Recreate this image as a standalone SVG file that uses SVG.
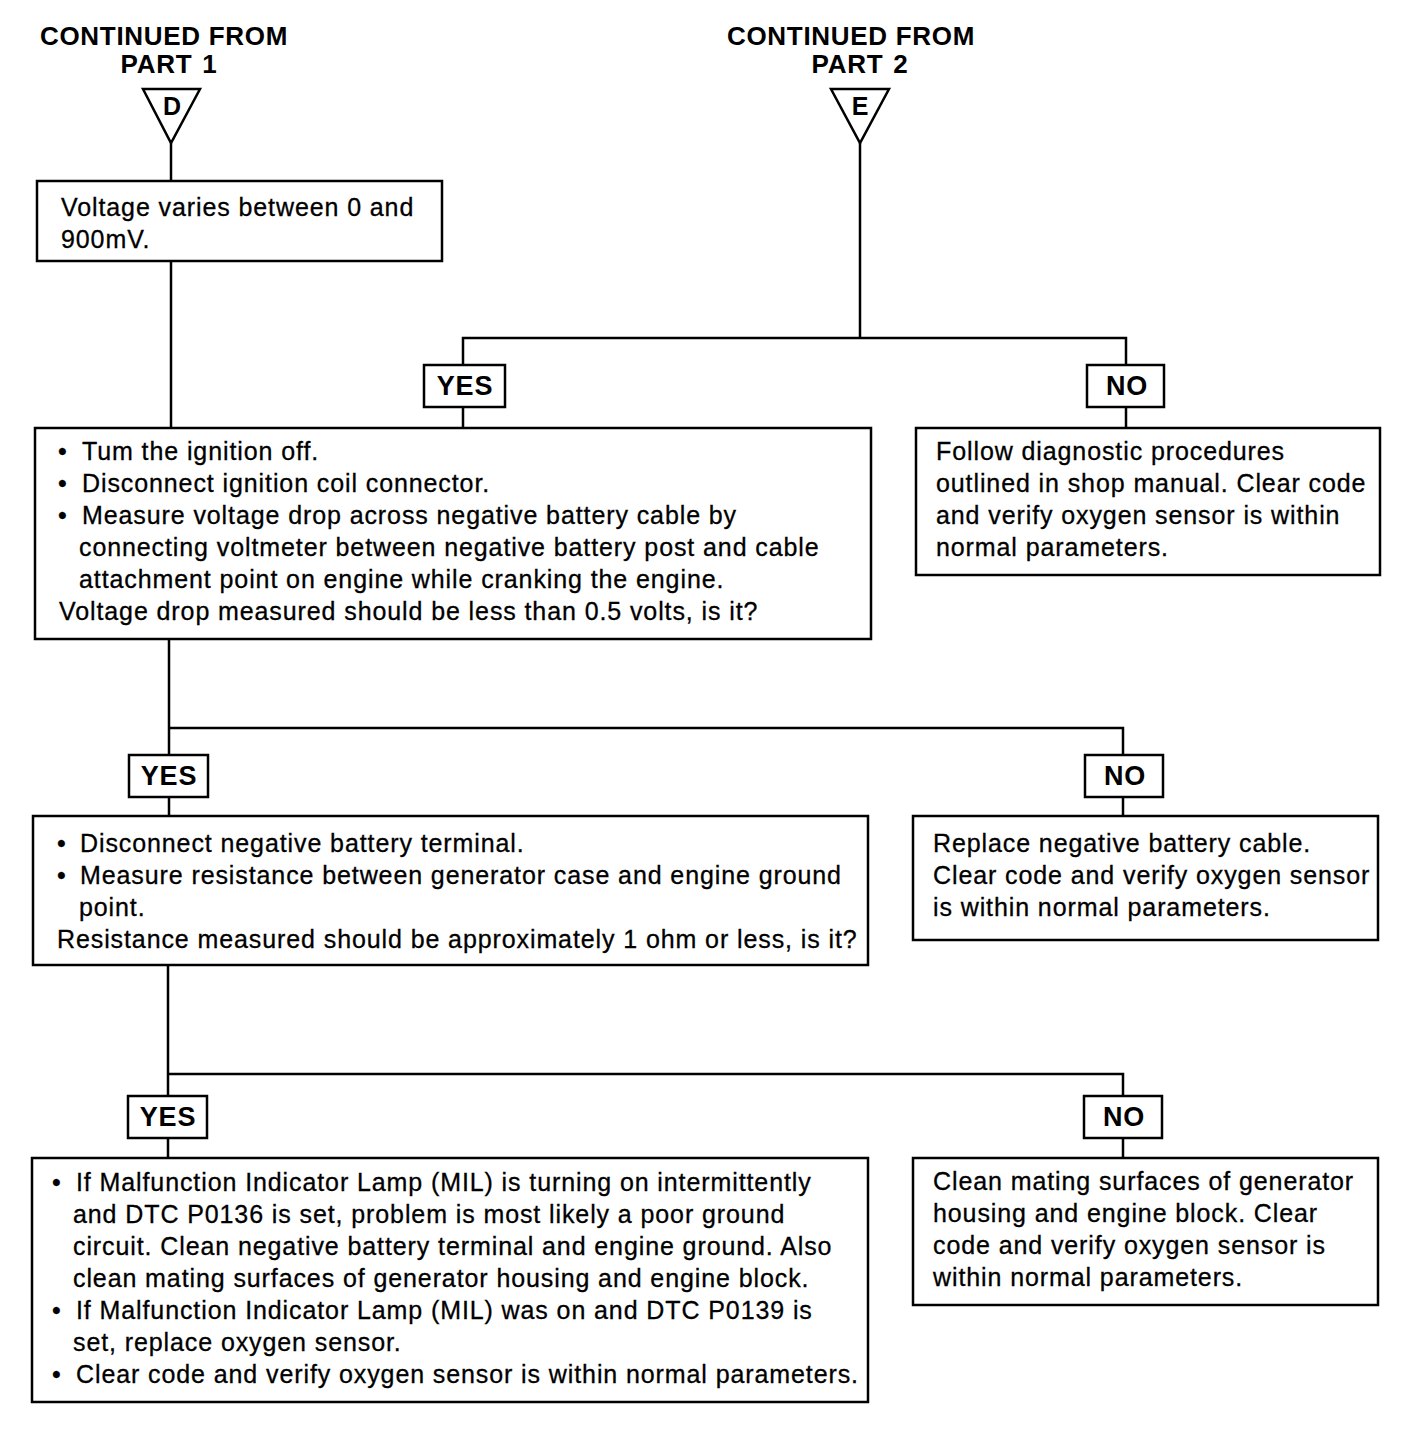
<svg xmlns="http://www.w3.org/2000/svg" width="1408" height="1432" viewBox="0 0 1408 1432">
<style>
.box{fill:#fff;stroke:#000;stroke-width:2.5}
.ln{fill:none;stroke:#000;stroke-width:2.5}
.t{font-family:"Liberation Sans",Arial,sans-serif;font-size:25px;letter-spacing:0.9px;fill:#000;stroke:#000;stroke-width:0.3}
.h{font-family:"Liberation Sans",Arial,sans-serif;font-size:26px;letter-spacing:0.7px;font-weight:bold;fill:#000;text-anchor:middle}
.lbl{font-family:"Liberation Sans",Arial,sans-serif;font-size:27px;letter-spacing:0.8px;font-weight:bold;fill:#000;text-anchor:middle}
.tri{font-family:"Liberation Sans",Arial,sans-serif;font-size:25px;font-weight:bold;fill:#000;text-anchor:middle}
</style>
<rect width="1408" height="1432" fill="#fff"/>
<g id="connectors">
<path class="ln" d="M171 143 V181"/>
<path class="ln" d="M171 261 V428"/>
<path class="ln" d="M860 143 V338 M463 365 V338 H1126 V365"/>
<path class="ln" d="M463 407 V428 M1126 407 V428"/>
<path class="ln" d="M169 639 V755 M169 728 H1123 V755"/>
<path class="ln" d="M169 797 V816 M1123 797 V816"/>
<path class="ln" d="M168 965 V1096 M168 1074 H1123 V1096"/>
<path class="ln" d="M168 1138 V1158 M1123 1138 V1158"/>
</g>
<g id="partD">
<text class="h" x="164" y="45">CONTINUED FROM</text>
<text class="h" x="169" y="73">PART<tspan dx="10">1</tspan></text>
<polygon class="box" points="143,89 200,89 171,143"/>
<text class="tri" x="172" y="115">D</text>
</g>
<g id="partE">
<text class="h" x="851" y="45">CONTINUED FROM</text>
<text class="h" x="860" y="73">PART<tspan dx="10">2</tspan></text>
<polygon class="box" points="831,89 889,89 860,143"/>
<text class="tri" x="860" y="115">E</text>
</g>
<g id="n1">
<rect class="box" x="37" y="181" width="405" height="80"/>
<text class="t" x="61" y="216">Voltage varies between 0 and</text>
<text class="t" x="61" y="248">900mV.</text>
</g>
<g id="yes1"><rect class="box" x="424" y="365" width="81" height="42"/><text class="lbl" x="465" y="395">YES</text></g>
<g id="no1"><rect class="box" x="1087" y="365" width="77" height="42"/><text class="lbl" x="1127" y="395">NO</text></g>
<g id="n2">
<rect class="box" x="35" y="428" width="836" height="211"/>
<text class="t" x="58" y="460">•</text><text class="t" x="82" y="460">Tum the ignition off.</text>
<text class="t" x="58" y="492">•</text><text class="t" x="82" y="492">Disconnect ignition coil connector.</text>
<text class="t" x="58" y="524">•</text><text class="t" x="82" y="524">Measure voltage drop across negative battery cable by</text>
<text class="t" x="79" y="556">connecting voltmeter between negative battery post and cable</text>
<text class="t" x="79" y="588">attachment point on engine while cranking the engine.</text>
<text class="t" x="59" y="620">Voltage drop measured should be less than 0.5 volts, is it?</text>
</g>
<g id="n2no">
<rect class="box" x="916" y="428" width="464" height="147"/>
<text class="t" x="936" y="460">Follow diagnostic procedures</text>
<text class="t" x="936" y="492">outlined in shop manual. Clear code</text>
<text class="t" x="936" y="524">and verify oxygen sensor is within</text>
<text class="t" x="936" y="556">normal parameters.</text>
</g>
<g id="yes2"><rect class="box" x="129" y="755" width="79" height="42"/><text class="lbl" x="169" y="785">YES</text></g>
<g id="no2"><rect class="box" x="1085" y="755" width="78" height="42"/><text class="lbl" x="1125" y="785">NO</text></g>
<g id="n3">
<rect class="box" x="33" y="816" width="835" height="149"/>
<text class="t" x="57" y="852">•</text><text class="t" x="80" y="852">Disconnect negative battery terminal.</text>
<text class="t" x="57" y="884">•</text><text class="t" x="80" y="884">Measure resistance between generator case and engine ground</text>
<text class="t" x="79" y="916">point.</text>
<text class="t" x="57" y="948">Resistance measured should be approximately 1 ohm or less, is it?</text>
</g>
<g id="n3no">
<rect class="box" x="913" y="816" width="465" height="124"/>
<text class="t" x="933" y="852">Replace negative battery cable.</text>
<text class="t" x="933" y="884">Clear code and verify oxygen sensor</text>
<text class="t" x="933" y="916">is within normal parameters.</text>
</g>
<g id="yes3"><rect class="box" x="128" y="1096" width="79" height="42"/><text class="lbl" x="168" y="1126">YES</text></g>
<g id="no3"><rect class="box" x="1084" y="1096" width="78" height="42"/><text class="lbl" x="1124" y="1126">NO</text></g>
<g id="n4">
<rect class="box" x="32" y="1158" width="836" height="244"/>
<text class="t" x="52" y="1191">•</text><text class="t" x="76" y="1191">If Malfunction Indicator Lamp (MIL) is turning on intermittently</text>
<text class="t" x="73" y="1223">and DTC P0136 is set, problem is most likely a poor ground</text>
<text class="t" x="73" y="1255">circuit. Clean negative battery terminal and engine ground. Also</text>
<text class="t" x="73" y="1287">clean mating surfaces of generator housing and engine block.</text>
<text class="t" x="52" y="1319">•</text><text class="t" x="76" y="1319">If Malfunction Indicator Lamp (MIL) was on and DTC P0139 is</text>
<text class="t" x="73" y="1351">set, replace oxygen sensor.</text>
<text class="t" x="52" y="1383">•</text><text class="t" x="76" y="1383">Clear code and verify oxygen sensor is within normal parameters.</text>
</g>
<g id="n4no">
<rect class="box" x="913" y="1158" width="465" height="147"/>
<text class="t" x="933" y="1190">Clean mating surfaces of generator</text>
<text class="t" x="933" y="1222">housing and engine block. Clear</text>
<text class="t" x="933" y="1254">code and verify oxygen sensor is</text>
<text class="t" x="933" y="1286">within normal parameters.</text>
</g>
</svg>
